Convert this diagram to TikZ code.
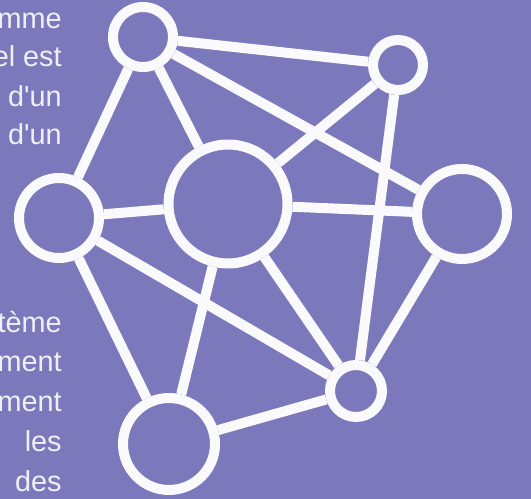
\documentclass[tikz,border=0pt]{standalone}
\usepackage{fontspec}
\setmainfont{Liberation Sans}
\usepackage{tikz}
\usetikzlibrary{positioning}
\definecolor{bgviolet}{HTML}{7B79BC}
\definecolor{wire}{HTML}{FAFAFC}
\definecolor{inktext}{HTML}{EFEFF6}
\tikzset{
  hub/.style={circle,draw=wire,line width=5.7pt,fill=none,inner sep=0pt,minimum size=#1},
  link/.style={draw=wire,line width=5.7pt},
  blurb/.style={anchor=base east,inner sep=0pt,text=inktext,font=\fontsize{16.4}{19}\selectfont},
}
\begin{document}
\begin{tikzpicture}[x=0.02cm,y=-0.02cm]
  \fill[bgviolet] (0,0) rectangle (531,499);
  \path[use as bounding box] (0,0) rectangle (531,499);
  % left column of text
  \node[blurb] (t1) at (62,29) {mme};
  \node[blurb] (t2) at (62,67) {el est};
  \node[blurb] (t3) at (62,107) {d\textquotesingle un};
  \node[blurb] (t4) at (62,145) {d\textquotesingle un};
  \node[blurb] (t5) at (62,333) {tème};
  \node[blurb] (t6) at (62,372) {ment};
  \node[blurb] (t7) at (62,412) {ment};
  \node[blurb] (t8) at (62,452) {les};
  \node[blurb] (t9) at (62,492) {des};
  % network
  \node[hub=1.2cm] (top) at (143,37) {};
  \node[hub=1.0cm] (topr) at (398,65) {};
  \node[hub=1.6cm] (left) at (59,218) {};
  \node[hub=2.38cm] (mid) at (228,204) {};
  \node[hub=1.8cm] (right) at (462,214) {};
  \node[hub=1.04cm] (lowr) at (356,391) {};
  \node[hub=1.84cm] (low) at (169,444) {};
  \draw[link] (top)--(topr); \draw[link] (top)--(left); \draw[link] (top)--(mid);
  \draw[link] (top)--(right); \draw[link] (topr)--(mid); \draw[link] (topr)--(lowr);
  \draw[link] (left)--(mid); \draw[link] (left)--(lowr); \draw[link] (left)--(low);
  \draw[link] (mid)--(right); \draw[link] (mid)--(low); \draw[link] (mid)--(lowr);
  \draw[link] (right)--(lowr); \draw[link] (lowr)--(low);
\end{tikzpicture}
\end{document}
